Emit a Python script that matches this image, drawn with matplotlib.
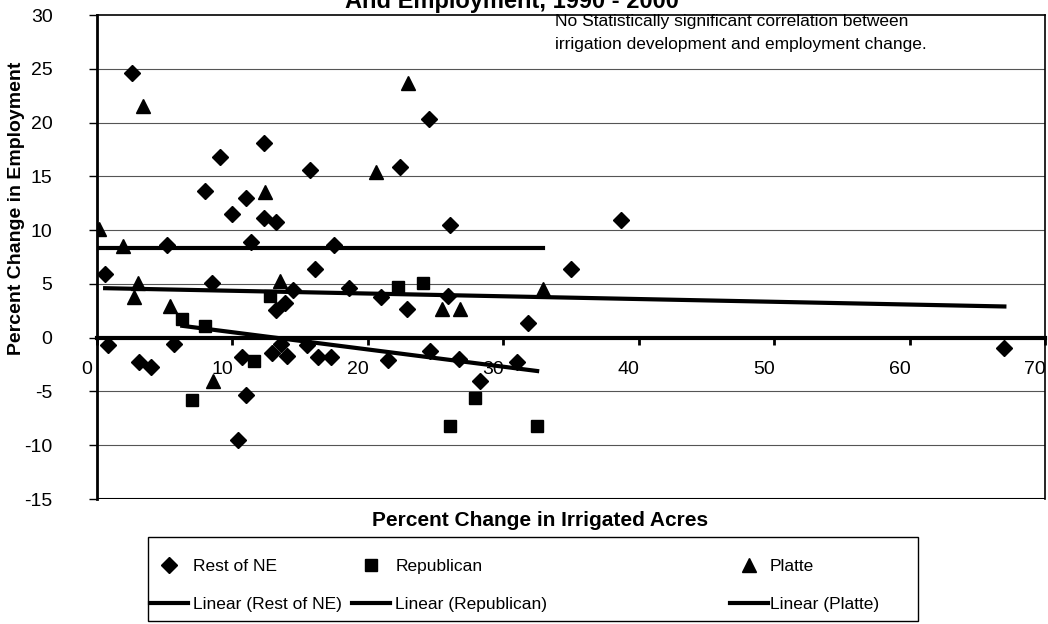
import matplotlib
matplotlib.use("Agg")
import matplotlib.pyplot as plt
import matplotlib.transforms as mtransforms
from matplotlib.patches import Rectangle
import numpy as np

plt.rcParams['font.family'] = ['Liberation Sans', 'DejaVu Sans']
plt.rcParams['axes.unicode_minus'] = False

# Rest of NE (diamonds)
rest_x = [2.6, 9.1, 12.3, 15.7, 22.4, 24.5, 8.0, 11.0, 10.0, 12.3, 13.2, 26.1, 38.7,
          5.2, 11.4, 17.5, 16.1, 0.6, 8.5, 14.5, 13.9, 13.2, 18.6, 21.0, 22.9, 25.9,
          35.0, 31.8, 0.8, 5.7, 3.1, 4.0, 10.7, 12.9, 13.6, 14.0, 15.5, 16.3, 17.3,
          21.5, 24.6, 26.7, 31.0, 28.3, 11.0, 10.4, 67.0]
rest_y = [24.6, 16.8, 18.1, 15.6, 15.9, 20.3, 13.6, 13.0, 11.5, 11.1, 10.8, 10.5, 10.9,
          8.6, 8.9, 8.6, 6.4, 5.9, 5.1, 4.4, 3.2, 2.6, 4.6, 3.8, 2.7, 3.9,
          6.4, 1.4, -0.7, -0.6, -2.3, -2.7, -1.8, -1.4, -0.6, -1.7, -0.7, -1.8, -1.8,
          -2.1, -1.2, -2.0, -2.3, -4.0, -5.3, -9.5, -1.0]

# Republican (squares)
rep_x = [6.3, 8.0, 7.0, 11.6, 12.8, 22.2, 24.1, 27.9, 26.1, 32.5]
rep_y = [1.7, 1.1, -5.8, -2.2, 3.9, 4.7, 5.1, -5.6, -8.2, -8.2]

# Platte (triangles)
platte_x = [0.15, 1.9, 3.4, 3.0, 2.7, 5.4, 8.6, 12.4, 13.5, 20.6, 23.0, 25.5, 26.8, 32.9]
platte_y = [10.1, 8.5, 21.5, 5.1, 3.8, 2.9, -4.0, 13.5, 5.3, 15.4, 23.7, 2.7, 2.7, 4.5]

# linear trendlines, end points
trend_rest_x = [0.6, 67.0]
trend_rest_y = [4.6, 2.9]
trend_rep_x = [6.3, 32.5]
trend_rep_y = [1.1, -3.1]
trend_platte_x = [0.15, 32.9]
trend_platte_y = [8.3, 8.3]

x_ticks = [0, 10, 20, 30, 40, 50, 60, 70]
y_ticks = [-15, -10, -5, 0, 5, 10, 15, 20, 25, 30]

W, H = 1048, 624
fig = plt.figure(figsize=(W / 100, H / 100), dpi=100)
ax = fig.add_axes([97 / W, 1 - 499 / H, (1045 - 97) / W, (499 - 15) / H])

ax.set_xlim(0, 70)
ax.set_ylim(-15, 30)

# horizontal gridlines
for v in y_ticks[1:-1]:
    if v != 0:
        ax.axhline(v, color='#555555', lw=0.8, zorder=1)

# trendlines
l1, = ax.plot(trend_rest_x, trend_rest_y, color='black', lw=3, zorder=3)
l2, = ax.plot(trend_rep_x, trend_rep_y, color='black', lw=3, zorder=3)
l3, = ax.plot(trend_platte_x, trend_platte_y, color='black', lw=3, zorder=3)

# scatter points
m1, = ax.plot(rest_x, rest_y, 'D', color='black', ms=8, ls='none', zorder=4)
m2, = ax.plot(rep_x, rep_y, 's', color='black', ms=9, ls='none', zorder=4)
m3, = ax.plot(platte_x, platte_y, '^', color='black', ms=10, ls='none', zorder=4)

# axis lines: x axis crosses at 0
for s in ['top', 'right']:
    ax.spines[s].set_linewidth(1.2)
ax.spines['left'].set_linewidth(2)
ax.spines['bottom'].set_position(('data', 0))
ax.spines['bottom'].set_linewidth(3)
ax.axhline(-15, color='black', lw=1.5, zorder=2)

ax.set_xticks(x_ticks)
ax.set_yticks(y_ticks)
ax.tick_params(axis='x', direction='out', length=5, width=2, pad=12, labelsize=14)
ax.tick_params(axis='y', direction='out', length=6, width=1, pad=26, labelsize=14)
offset = mtransforms.ScaledTranslation(-0.10, 0, fig.dpi_scale_trans)
for lab in ax.get_xticklabels():
    lab.set_transform(lab.get_transform() + offset)

fig.text(17 / W, 1 - 208 / H, 'Percent Change in Employment', rotation=90,
         ha='center', va='center', fontsize=14, fontweight='bold')
fig.text(540 / W, 1 - 521 / H, 'Percent Change in Irrigated Acres',
         ha='center', va='center', fontsize=15, fontweight='bold')
fig.text(512 / W, 1 - 8 / H, 'And Employment, 1990 - 2000', ha='center', va='baseline',
         fontsize=17, fontweight='bold')

fig.text(555 / W, 1 - 33 / H, 'No Statistically significant correlation between\n'
         'irrigation development and employment change.',
         ha='left', va='center', fontsize=12.5, linespacing=1.6)

# legend: three columns placed like the original, inside one frame
fig.patches.append(Rectangle((148 / W, 1 - 621 / H), (918 - 148) / W, (621 - 537) / H,
                             transform=fig.transFigure, fill=False, edgecolor='black', lw=1))
columns = [
    (150, [m1, l1], ['Rest of NE', 'Linear (Rest of NE)'], 0.3),
    (352, [m2, l2], ['Republican', 'Linear (Republican)'], 0.3),
    (730, [m3, l3], ['Platte', 'Linear (Platte)'], 0.1),
]
for x0, handles, labels, tpad in columns:
    fig.legend(handles, labels, loc='upper left', bbox_to_anchor=(x0 / W, 1 - 559 / H),
               frameon=False, fontsize=12.5, handlelength=2.2, handletextpad=tpad,
               labelspacing=1.3, borderpad=0, borderaxespad=0)

fig.savefig('out.png', dpi=100)
